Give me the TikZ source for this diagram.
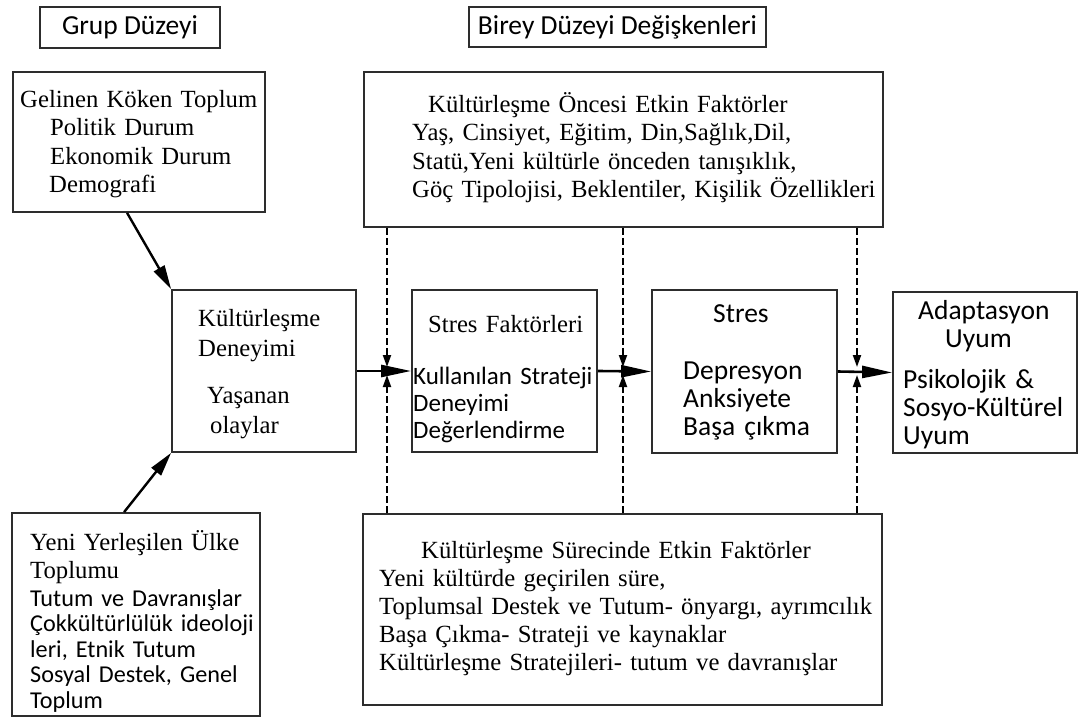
\documentclass[tikz,border=0pt]{standalone}
\usepackage{fontspec}
\setmainfont{Liberation Serif}
\newfontfamily\calibrifont{Carlito}
\usepackage{tikz}
\usetikzlibrary{arrows.meta}
\definecolor{boxgray}{RGB}{45,45,45}

\begin{document}
\begin{tikzpicture}[x=1pt,y=-1pt,
  box/.style={draw=boxgray, line width=1.8pt, rectangle, inner sep=0pt},
  serif/.style={inner sep=0pt, anchor=base west, align=left, text width=520pt,
    font=\fontsize{24.7}{28.5}\selectfont},
  sans/.style={inner sep=0pt, anchor=base west, align=left, text width=260pt,
    font=\calibrifont\fontsize{25}{27}\selectfont},
  sansbig/.style={inner sep=0pt, anchor=base west, align=left, text width=200pt,
    font=\calibrifont\fontsize{27.5}{28}\selectfont},
  flow/.style={line width=2.6pt, -{Triangle[length=30pt,width=12pt]}},
  slant/.style={line width=2.4pt, -{Triangle[length=24pt,width=12pt]}},
  dashflow/.style={line width=1.9pt, dash pattern=on 7pt off 3pt,
    -{Triangle[length=12pt,width=8pt]}}]
\useasboundingbox (0,0) rectangle (1082,717);

% level headings
\node [box, minimum width=180pt, minimum height=41pt,
  font=\calibrifont\fontsize{27.5}{30}\selectfont] (grp) at (130,27.5) {Grup Düzeyi};
\node [box, minimum width=297pt, minimum height=40pt,
  font=\calibrifont\fontsize{27.5}{30}\selectfont] (ind) at (617.5,27) {Birey Düzeyi Değişkenleri};

% boxes
\node [box, minimum width=252pt, minimum height=140pt] (origin) at (139,142) {};
\node [box, minimum width=519pt, minimum height=155pt] (pre) at (623.5,149.5) {};
\node [box, minimum width=184pt, minimum height=162pt] (exp) at (264,371) {};
\node [box, minimum width=185pt, minimum height=162pt] (stf) at (504.5,371) {};
\node [box, minimum width=185pt, minimum height=163pt] (str) at (744.5,371.5) {};
\node [box, minimum width=184pt, minimum height=161pt] (ada) at (985,372.5) {};
\node [box, minimum width=248pt, minimum height=203pt] (host) at (136,614.5) {};
\node [box, minimum width=519pt, minimum height=191pt] (dur) at (622.5,609.5) {};

% texts
\node [serif] (origintxt) at (20,107) {Gelinen Köken Toplum\\\hspace*{30pt}Politik Durum\\\hspace*{30pt}Ekonomik Durum\\\hspace*{29pt}Demografi};
\node [serif] (pretxt) at (412,112) {\hspace*{16pt}Kültürleşme Öncesi Etkin Faktörler\\Yaş, Cinsiyet, Eğitim, Din,Sağlık,Dil,\\Statü,Yeni kültürle önceden tanışıklık,\\Göç Tipolojisi, Beklentiler, Kişilik Özellikleri};
\node [serif] (exptitle) at (198,326) {Kültürleşme\\[2pt]Deneyimi};
\node [serif] (expsub) at (207,403) {Yaşanan\\[2pt]\hspace*{3pt}olaylar};
\node [serif] (stftitle) at (428,332) {Stres Faktörleri};
\node [sans] (stfsub) at (413,384) {Kullanılan Strateji\\Deneyimi\\Değerlendirme};
\node [sansbig] (strtitle) at (713,322) {Stres};
\node [sansbig] (strsub) at (683,379) {Depresyon\\Anksiyete\\Başa çıkma};
\node [sansbig] (adatitle) at (918,319) {Adaptasyon\\\hspace*{27pt}Uyum};
\node [sansbig] (adasub) at (903,388) {Psikolojik \&\\Sosyo-Kültürel\\Uyum};
\node [serif] (hosttitle) at (30,550) {Yeni Yerleşilen Ülke\\Toplumu};
\node [sans, font=\calibrifont\fontsize{24.2}{25.5}\selectfont] (hostsub) at (30,606) {Tutum ve Davranışlar\\Çokkültürlülük ideoloji\\leri, Etnik Tutum\\Sosyal Destek, Genel\\Toplum};
\node [serif, font=\fontsize{24.7}{28}\selectfont] (durtxt) at (379,558) {\hspace*{42pt}Kültürleşme Sürecinde Etkin Faktörler\\Yeni kültürde geçirilen süre,\\Toplumsal Destek ve Tutum- önyargı, ayrımcılık\\Başa Çıkma- Strateji ve kaynaklar\\Kültürleşme Stratejileri- tutum ve davranışlar};

% group level arrows
\draw [slant] ([xshift=115pt]origin.south west) -- (exp.north west);
\draw [slant] ([xshift=113pt]host.north west) -- (exp.south west);

% main flow
\draw [flow] (exp.east) -- (stf.west);
\draw [flow] (stf.east) -- (str.west);
\draw [flow] (str.east) -- (ada.west);

% moderating factors
\coordinate (j1) at (387,371);
\coordinate (j2) at (623,371);
\coordinate (j3) at (857,371);
\draw [dashflow] (pre.south -| j1) -- ([yshift=4pt]j1);
\draw [dashflow] (pre.south -| j2) -- ([yshift=4pt]j2);
\draw [dashflow] (pre.south -| j3) -- ([yshift=4pt]j3);
\draw [dashflow] (dur.north -| j1) -- ([yshift=-4pt]j1);
\draw [dashflow] (dur.north -| j2) -- ([yshift=-4pt]j2);
\draw [dashflow] (dur.north -| j3) -- ([yshift=-4pt]j3);
\end{tikzpicture}
\end{document}
